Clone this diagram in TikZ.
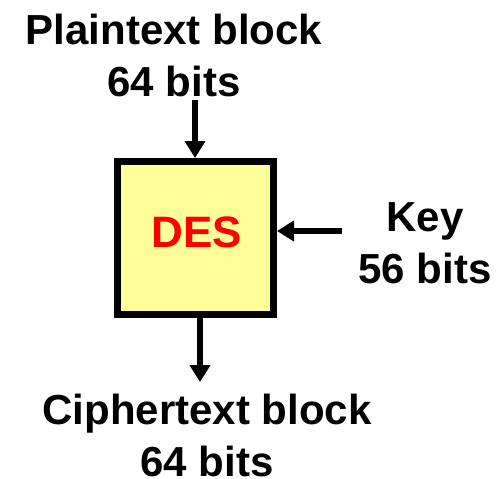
\documentclass[tikz,border=0pt]{standalone}
\usepackage{fontspec}
\setmainfont{Liberation Sans}
\usetikzlibrary{arrows.meta}
\definecolor{boxyellow}{HTML}{FFFF99}
\definecolor{desred}{HTML}{FF0000}

\begin{document}
\begin{tikzpicture}[x=1pt,y=-1pt,
  caption/.style={font=\fontsize{42}{52}\selectfont\bfseries, align=center, inner sep=0pt},
  cipherbox/.style={draw=black, line width=7pt, fill=boxyellow,
    minimum width=156pt, minimum height=153pt, inner sep=0pt},
  flow/.style={line width=6.5pt, -{Triangle[width=20pt,length=17pt]}}]
\useasboundingbox (0,0) rectangle (504,479);

% the cipher block
\node[cipherbox] (des) at (195.5,238) {};
\node[font=\fontsize{44}{52}\selectfont\bfseries, text=desred, inner sep=0pt]
  (desname) at (197,232.5) {DES};

% inputs and output
\node[caption] (plain) at (174,55) {Plaintext block\\64 bits};
\node[caption] (key) at (425,243) {Key\\56 bits};
\node[caption] (cipher) at (207,435) {Ciphertext block\\64 bits};

% connectors
\coordinate (plainin) at (195,100);
\coordinate (keyin) at (342,231);
\coordinate (cipherout) at (200,382);

\draw[flow] (plainin) -- (plainin |- des.north);
\draw[flow] (keyin) -- (keyin -| des.east);
\draw[flow] (cipherout |- des.south) -- (cipherout);
\end{tikzpicture}
\end{document}
